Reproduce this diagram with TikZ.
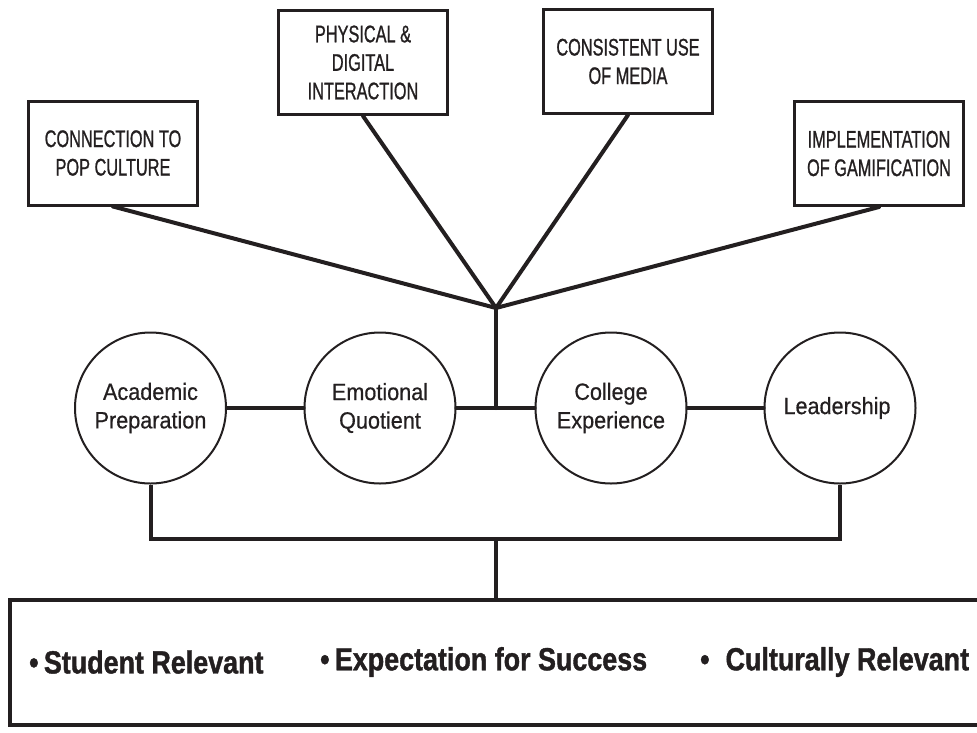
\documentclass[tikz,border=0pt]{standalone}
\usepackage{fontspec}
\usepackage{xcolor}
\setmainfont{Liberation Sans}
\newfontfamily\boxfont[FakeStretch=0.68, FakeBold=0.9]{Liberation Sans}
\newfontfamily\traitfont[FakeStretch=0.92, FakeBold=0.6]{Liberation Sans}
\newfontfamily\goalfont[FakeStretch=0.84, FakeBold=1.2]{Liberation Sans}
\definecolor{ink}{HTML}{231F20}

\begin{document}
\begin{tikzpicture}[x=1pt, y=-1pt,
  topic/.style = {shape=rectangle, draw=ink, line width=3pt, minimum width=169pt, minimum height=104pt,
    inner sep=0pt, align=center, text=ink, font=\boxfont\fontsize{24}{28.5}\selectfont},
  trait/.style = {shape=circle, draw=ink, line width=2pt, minimum size=151pt, inner sep=0pt,
    align=center, text=ink, font=\traitfont\fontsize{23.5}{28.5}\selectfont},
  goalbox/.style = {shape=rectangle, draw=ink, line width=4pt, minimum width=990pt, minimum height=125pt},
  goal/.style = {anchor=west, inner sep=0pt, text=ink, font=\goalfont\bfseries\fontsize{32}{36}\selectfont},
  link/.style = {draw=ink, line width=4pt, line cap=round}]
\useasboundingbox (0,0) rectangle (977,732);
\clip (0,0) rectangle (977,732);

% four topics on top
\node[topic] (pop) at (113,153) { CONNECTION TO\\POP CULTURE };
\node[topic] (interaction) at (363,62.5) { PHYSICAL \&\\DIGITAL\\INTERACTION };
\node[topic] (media) at (628,61.5) { CONSISTENT USE\\OF MEDIA };
\node[topic] (gamification) at (879,153.5) { IMPLEMENTATION\\OF GAMIFICATION };

% the four traits
\node[trait] (academic) at (150.5,408) { Academic\\Preparation };
\node[trait] (emotional) at (380,408) { Emotional\\Quotient };
\node[trait] (college) at (611,408) { College\\Experience };
\node[trait] (leadership) at (840,408) { Leadership };

% goals along the bottom
\node[goalbox] (goals) at (505,662.5) {};
\node[goal] (relevant) at (29,662) { •\,Student Relevant };
\node[goal] (success) at (320,662) { •\,Expectation for Success };
\node[goal] (culture) at (700,662) { •\enspace Culturally Relevant };

\coordinate (hub) at (496,308);
\coordinate (merge) at (496,539);

\draw[link] (pop.south) -- (hub);
\draw[link] (interaction.south) -- (hub);
\draw[link] (media.south) -- (hub);
\draw[link] (gamification.south) -- (hub);
\draw[link] (hub) -- (hub |- emotional.east);

\draw[link] (academic) -- (emotional);
\draw[link] (emotional) -- (college);
\draw[link] (college) -- (leadership);

\draw[link, line cap=butt] (academic.south) |- (merge) -| (leadership.south);
\draw[link, line cap=butt] (merge) -- (merge |- goals.north);
\end{tikzpicture}
\end{document}
